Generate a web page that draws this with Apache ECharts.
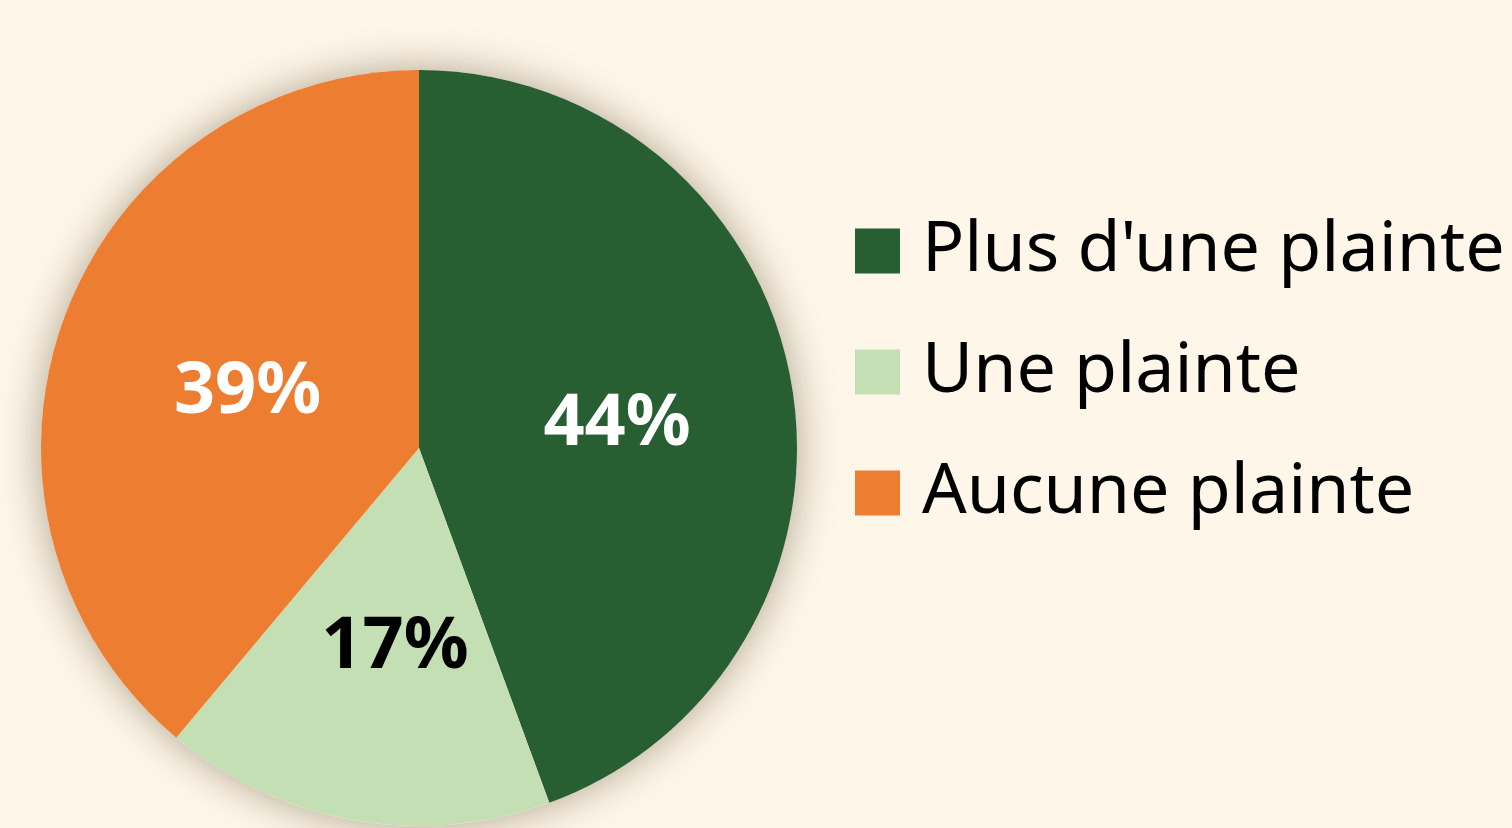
<!DOCTYPE html>
<html>
<head>
<meta charset="utf-8">
<script src="https://cdn.jsdelivr.net/npm/echarts@6/dist/echarts.min.js"></script>
<style>
  html, body { margin: 0; padding: 0; background: #fdf6e9; }
  #chart { width: 1512px; height: 828px; }
</style>
</head>
<body>
<div id="chart"></div>
<script>
const categories = ["Plus d'une plainte", "Une plainte", "Aucune plainte"];
const values = [44.4, 16.7, 38.9];
const colors = ["#275e32", "#c5dfb5", "#ed7d31"];
const labelColors = ["#ffffff", "#000000", "#ffffff"];

const chart = echarts.init(document.getElementById('chart'));

chart.setOption({
  backgroundColor: '#fdf6e9',
  animation: false,
  legend: {
    orient: 'vertical',
    left: 855,
    top: 211,
    padding: 0,
    itemWidth: 45,
    itemHeight: 45,
    itemGap: 41,
    icon: 'rect',
    textStyle: {
      fontFamily: 'Noto Sans',
      fontSize: 70,
      lineHeight: 80,
      color: '#000',
      padding: [0, 0, 0, 17]
    },
    data: categories
  },
  series: [
    {
      // disc behind the pie, only there to cast the outer shadow
      type: 'pie',
      silent: true,
      z: 1,
      center: [419, 448],
      radius: 378,
      label: { show: false },
      labelLine: { show: false },
      itemStyle: {
        color: '#fdf6e9',
        shadowBlur: 40,
        shadowColor: 'rgba(60, 40, 0, 0.4)'
      },
      data: [{ value: 1, name: '' }]
    },
    {
      type: 'pie',
      z: 2,
      center: [419, 448],
      radius: 378,
      startAngle: 90,
      clockwise: true,
      label: {
        position: 'inside',
        formatter: p => Math.round(p.value) + '%',
        fontFamily: 'Noto Sans',
        fontWeight: 'bold',
        fontSize: 72,
        offset: [9, 10]
      },
      labelLine: { show: false },
      emphasis: { disabled: true },
      data: categories.map((name, i) => ({
        name: name,
        value: values[i],
        itemStyle: { color: colors[i] },
        label: { color: labelColors[i] }
      }))
    }
  ]
});
</script>
</body>
</html>
